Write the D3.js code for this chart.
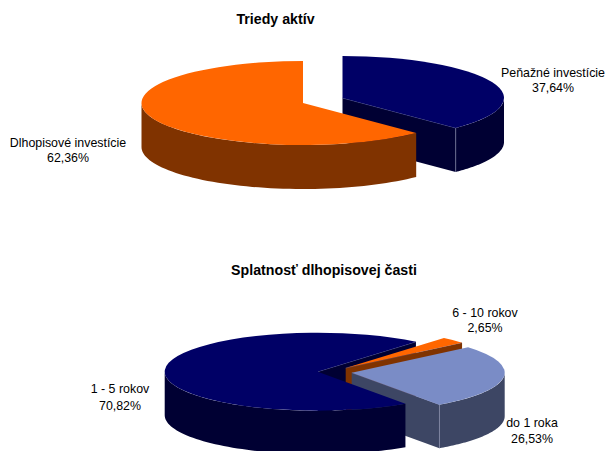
<!DOCTYPE html>
<html>
<head>
<meta charset="utf-8">
<style>
    html, body { margin: 0; padding: 0; background: #fff; }
    svg { display: block; }
    text { font-family: "Liberation Sans", Arial, sans-serif; font-size: 12.4px; fill: #000; text-anchor: middle; }
    text.title { font-weight: bold; font-size: 14.2px; }
</style>
<script src="https://cdn.jsdelivr.net/npm/d3@7"></script>
</head>
<body>
<script>

    var assetNames = ["Peňažné investície", "Dlhopisové investície"];
    var assetValues = [37.64, 62.36];

    var maturityNames = ["do 1 roka", "1 - 5 rokov", "6 - 10 rokov"];
    var maturityValues = [26.53, 70.82, 2.65];

    var navy = {top: "#000066", side: "#000033"};
    var orange = {top: "#ff6600", side: "#803300"};
    var steel = {top: "#7a8cc6", side: "#3d4664"};

    var svg = d3.select("body").append("svg")
        .attr("width", 606)
        .attr("height", 451);

    var deg = Math.PI / 180;

    function drawPie(c) {
        var g = svg.append("g");
        var arcs = d3.pie().sort(null).value(function (d) { return d; })
            .startAngle(c.start * deg)
            .endAngle(c.start * deg + 2 * Math.PI)(c.values);

        function px(i, a) { return c.centers[i][0] + c.rx * Math.sin(a); }
        function py(i, a) { return c.centers[i][1] - c.ry * Math.cos(a); }

        // cut faces first, the tops and walls of the other slices go over them
        c.cutOrder.forEach(function (i) {
            var e = arcs[i].endAngle;
            if (Math.sin(e) < 0.01) return;
            var o = c.centers[i];
            var pts = [o, [px(i, e), py(i, e)], [px(i, e), py(i, e) + c.depth], [o[0], o[1] + c.depth]];
            g.append("path")
                .attr("d", d3.line()(pts) + "Z")
                .attr("fill", c.colors[i].side);
            g.append("path")
                .attr("d", d3.line()([o, pts[1]]))
                .attr("stroke", "#5a6296").attr("stroke-width", 0.5).attr("fill", "none");
        });

        c.order.forEach(function (i) {
            var o = c.centers[i];
            var from = Math.max(arcs[i].startAngle, 90 * deg);
            var to = Math.min(arcs[i].endAngle, 270 * deg);

            if (to > from) {
                var wall = d3.area()
                    .x(function (a) { return px(i, a); })
                    .y0(function (a) { return py(i, a); })
                    .y1(function (a) { return py(i, a) + c.depth; });
                var steps = d3.range(0, 61).map(function (k) { return from + (to - from) * k / 60; });
                g.append("path")
                    .attr("d", wall(steps))
                    .attr("fill", c.colors[i].side);
                // seam where the cut face meets the round wall
                if (arcs[i].endAngle < 270 * deg) {
                    g.append("line")
                        .attr("x1", px(i, to)).attr("y1", py(i, to))
                        .attr("x2", px(i, to)).attr("y2", py(i, to) + c.depth)
                        .attr("stroke", "#8a90b0").attr("stroke-width", 0.6);
                }
            }

            g.append("path")
                .attr("d", d3.arc().innerRadius(0).outerRadius(c.rx)(arcs[i]))
                .attr("transform", "translate(" + o[0] + "," + o[1] + ") scale(1," + (c.ry / c.rx) + ")")
                .attr("fill", c.colors[i].top);
        });

        svg.append("text").attr("class", "title")
            .attr("x", c.title[1]).attr("y", c.title[2])
            .text(c.title[0]);

        c.names.forEach(function (name, i) {
            var lab = c.labels[i];
            svg.append("text").attr("x", lab[0]).attr("y", lab[1]).text(name);
            svg.append("text").attr("x", lab[0]).attr("y", lab[1] + lab[2])
                .text(c.values[i].toFixed(2).replace(".", ",") + "%");
        });
    }

    drawPie({
        names: assetNames,
        values: assetValues,
        colors: [navy, orange],
        start: 0,
        rx: 161.5, ry: 42, depth: 44,
        centers: [[342.5, 98], [303, 103]],
        cutOrder: [0, 1],
        order: [0, 1],
        title: ["Triedy aktív", 275.5, 24],
        labels: [[553, 77, 15], [68, 147, 15]]
    });

    drawPie({
        names: maturityNames,
        values: maturityValues,
        colors: [steel, navy, orange],
        start: 49.5,
        rx: 153, ry: 39, depth: 43.5,
        centers: [[351.7, 372.7], [317.7, 371.7], [345.7, 368]],
        cutOrder: [1, 2, 0],
        order: [2, 0, 1],
        title: ["Splatnosť dlhopisovej časti", 324, 275],
        labels: [[532, 427, 16], [120, 393, 17], [485, 317, 15]]
    });

</script>
</body>
</html>
